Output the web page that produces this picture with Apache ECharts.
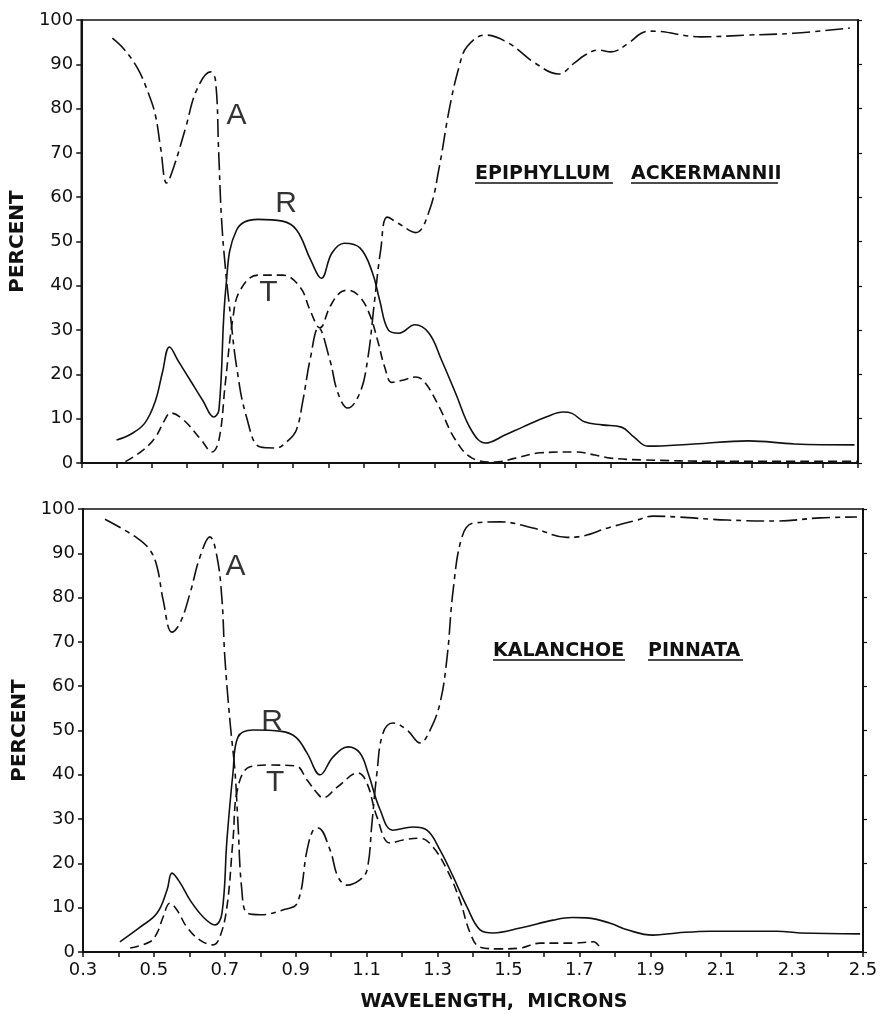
<!DOCTYPE html>
<html>
<head>
<meta charset="utf-8">
<script src="https://cdn.jsdelivr.net/npm/echarts@6/dist/echarts.min.js"></script>
<style>
html,body{margin:0;padding:0;background:#fff;}
#chart{width:883px;height:1014px;}
</style>
</head>
<body>
<div id="chart"></div>
<script>
// ---- data (wavelength in microns, percent) ----
const xTicks = [0.3,0.5,0.7,0.9,1.1,1.3,1.5,1.7,1.9,2.1,2.3,2.5];

const epiR = [[0.40,5.2],[0.44,6.5],[0.48,9],[0.51,14],[0.53,20.5],[0.55,26.2],[0.575,23],[0.61,18.5],[0.645,14],[0.675,10.4],[0.69,12],[0.71,40],[0.74,52.6],[0.80,55],[0.87,54.6],[0.91,52.6],[0.95,45.8],[0.98,41.7],[1.01,47.4],[1.045,49.6],[1.09,48.5],[1.125,42.9],[1.145,36.8],[1.17,30],[1.20,29.3],[1.245,31.2],[1.285,29.3],[1.32,23.3],[1.36,15.8],[1.405,7.4],[1.445,4.5],[1.50,6.3],[1.55,8.1],[1.62,10.5],[1.665,11.5],[1.69,11.2],[1.725,9.3],[1.775,8.6],[1.83,8.1],[1.865,5.9],[1.905,3.8],[2.035,4.3],[2.19,5],[2.32,4.3],[2.49,4.1]];
const epiT = [[0.425,0.3],[0.475,2.9],[0.51,5.8],[0.535,9.5],[0.553,11.3],[0.59,9.7],[0.64,5.2],[0.67,2.5],[0.69,5.2],[0.708,18],[0.73,33],[0.75,39],[0.80,42.4],[0.87,42.4],[0.92,39.7],[0.948,34.5],[0.976,30.5],[1.004,35.2],[1.032,38.4],[1.055,39],[1.089,37.5],[1.117,33.5],[1.14,27.5],[1.16,21.5],[1.18,18.2],[1.21,18.7],[1.247,19.4],[1.275,18],[1.314,12.6],[1.36,5.2],[1.407,1.1],[1.47,0.2],[1.53,1.1],[1.60,2.3],[1.70,2.5],[1.755,1.8],[1.80,1.1],[1.89,0.7],[2.1,0.4],[2.5,0.4]];
const epiA = [[0.388,95.9],[0.42,93.5],[0.46,89],[0.49,83.5],[0.51,78.5],[0.525,71],[0.542,63.2],[0.562,66.8],[0.596,75.8],[0.627,84.2],[0.666,88.3],[0.68,86.5],[0.689,70.7],[0.697,55.5],[0.708,44.2],[0.723,33],[0.74,21.7],[0.768,10.4],[0.807,3.6],[0.852,3.4],[0.885,5],[0.909,7.4],[0.928,14.2],[0.948,23.3],[0.972,30.5],[1.004,23.3],[1.027,15.8],[1.055,12.4],[1.089,15.8],[1.111,23.3],[1.131,36.8],[1.148,48],[1.167,55.5],[1.20,54],[1.247,52],[1.286,57],[1.314,66.8],[1.342,79.7],[1.37,89.4],[1.393,94],[1.444,96.6],[1.51,94.8],[1.585,90.3],[1.652,87.8],[1.697,90.3],[1.725,92],[1.765,93.2],[1.80,92.8],[1.85,94.8],[1.886,97],[1.914,97.5],[2.055,96.2],[2.187,96.6],[2.317,97],[2.477,98.2]];

const kalR = [[0.404,2.3],[0.461,5.6],[0.509,8.8],[0.537,14],[0.551,17.8],[0.574,15.6],[0.602,11.7],[0.639,7.9],[0.672,6.1],[0.692,8.8],[0.706,25.3],[0.723,40.4],[0.737,48.5],[0.78,50.1],[0.86,49.8],[0.90,48.5],[0.932,44.9],[0.969,40],[1.005,44],[1.048,46.3],[1.081,44.9],[1.104,40.4],[1.138,32.1],[1.174,27.5],[1.231,28.2],[1.27,27.5],[1.307,23],[1.344,17],[1.383,10.2],[1.42,5],[1.457,4.3],[1.533,5.4],[1.626,7.2],[1.68,7.8],[1.722,7.7],[1.787,6.5],[1.835,5],[1.908,3.8],[1.975,4.3],[2.069,4.7],[2.258,4.7],[2.322,4.3],[2.492,4.1]];
const kalT = [[0.433,0.9],[0.489,2.3],[0.509,4.3],[0.526,7.9],[0.545,11],[0.565,9.5],[0.593,5.6],[0.63,2.7],[0.667,1.6],[0.686,3.4],[0.706,10.2],[0.723,25.3],[0.737,37.2],[0.771,41.8],[0.828,42.2],[0.90,42],[0.932,38.8],[0.96,35.9],[0.977,34.8],[1.017,37.2],[1.076,40.4],[1.101,38.1],[1.129,30.5],[1.166,24.6],[1.203,25.3],[1.251,25.7],[1.287,23.7],[1.327,18.5],[1.363,11.7],[1.392,4.3],[1.42,1.1],[1.476,0.7],[1.533,0.9],[1.589,2],[1.682,2],[1.739,2.3],[1.76,0.8]];
const kalA = [[0.362,97.7],[0.452,93.5],[0.489,90.7],[0.509,86.9],[0.526,79.5],[0.551,72.2],[0.574,74.3],[0.602,81],[0.63,89.2],[0.658,93.7],[0.678,89.2],[0.692,79.5],[0.70,66.6],[0.715,51.7],[0.729,40.4],[0.737,29.1],[0.748,14],[0.763,8.8],[0.80,8.4],[0.864,9.5],[0.904,11],[0.932,23],[0.949,27.5],[0.963,28],[0.997,23],[1.019,17],[1.045,15.1],[1.081,16.3],[1.101,18.5],[1.115,29.1],[1.129,40.4],[1.146,49.4],[1.174,51.7],[1.214,50.1],[1.251,47.2],[1.279,50.1],[1.307,56.2],[1.327,66.6],[1.344,81.7],[1.369,93.7],[1.40,96.8],[1.476,97.1],[1.569,95.7],[1.665,93.6],[1.694,93.7],[1.787,95.9],[1.863,97.5],[1.908,98.4],[1.975,98.2],[2.117,97.5],[2.258,97.3],[2.379,98],[2.483,98.2]];

const curveLabelsTop = [[0.74,78.3,'A'],[0.88,58.5,'R'],[0.83,38.4,'T']];
const curveLabelsBottom = [[0.73,86.9,'A'],[0.833,51.9,'R'],[0.842,38.1,'T']];

// ---- chart ----
const INK = '#111';
const FONT = 'DejaVu Sans';
const chart = echarts.init(document.getElementById('chart'), null, {renderer:'canvas'});

function xAx(gi, showLabels){
  return {
    gridIndex: gi, type:'value', min:0.3, max:2.5, interval:0.1,
    axisLine:{onZero:false, lineStyle:{color:INK, width:2}},
    axisTick:{show:true, length:5, lineStyle:{color:INK, width:1.5}},
    splitLine:{show:false},
    axisLabel:{show:showLabels, fontFamily:FONT, fontSize:18, color:INK, margin:9,
      formatter: function(v){
        const k = Math.round(v*10);
        const txt = (k/10).toFixed(1);
        return xTicks.some(t => Math.abs(t - k/10) < 1e-6) ? txt : '';
      }}
  };
}
function yAx(gi){
  return {
    gridIndex: gi, type:'value', min:0, max:100, interval:10,
    name:'PERCENT', nameLocation:'middle', nameGap:38,
    nameTextStyle:{fontFamily:FONT, fontSize:20, fontWeight:'bold', color:INK},
    axisLine:{show:true, lineStyle:{color:INK, width:2}},
    axisTick:{show:true, length:5, lineStyle:{color:INK, width:1.5}},
    splitLine:{show:false},
    axisLabel:{fontFamily:FONT, fontSize:18, color:INK, margin:8}
  };
}
function yAxRight(gi){
  return {
    gridIndex: gi, type:'value', min:0, max:100, interval:10, position:'right',
    axisLine:{show:true, lineStyle:{color:INK, width:2}},
    axisTick:{show:true, length:4, lineStyle:{color:INK, width:1.2}},
    splitLine:{show:false}, axisLabel:{show:false}
  };
}
function line(data, xi, yi, type){
  return {
    type:'line', xAxisIndex:xi, yAxisIndex:yi, data:data,
    showSymbol:false, symbol:'none', smooth:0.4,
    lineStyle:{color:INK, width:1.6, type:type}, silent:true
  };
}
function letters(data, xi, yi){
  return {
    type:'scatter', xAxisIndex:xi, yAxisIndex:yi, data:data,
    symbolSize:1, itemStyle:{color:'rgba(0,0,0,0)'}, silent:true,
    label:{show:true, position:'inside', formatter: p => p.value[2],
      fontFamily:'Liberation Sans', fontSize:30, color:'#000'}
  };
}

const titleFont = 'bold 19px "DejaVu Sans"';
function word(text, x, y){
  return {type:'text', x:x, y:y, style:{text:text, font:titleFont, fill:INK, textAlign:'left', textVerticalAlign:'middle', align:'left', verticalAlign:'middle'}};
}
function uline(x1, x2, y){
  return {type:'line', shape:{x1:x1, y1:y, x2:x2, y2:y}, style:{stroke:INK, lineWidth:1.5}};
}

const option = {
  animation:false,
  backgroundColor:'#fff',
  grid:[
    {left:77, top:20, width:781, height:443, show:true, borderColor:INK, borderWidth:1.5, backgroundColor:'transparent'},
    {left:83, top:509, width:780, height:443, show:true, borderColor:INK, borderWidth:1.5, backgroundColor:'transparent'}
  ],
  xAxis:[xAx(0,false), xAx(1,true)],
  yAxis:[yAx(0), yAxRight(0), yAx(1), yAxRight(1)],
  series:[
    line(epiR,0,0,'solid'),
    line(epiT,0,0,[9,5]),
    line(epiA,0,0,[18,5,5,5]),
    line(kalR,1,2,'solid'),
    line(kalT,1,2,[9,5]),
    line(kalA,1,2,[18,5,5,5]),
    letters(curveLabelsTop,0,0),
    letters(curveLabelsBottom,1,2)
  ],
  graphic:[
    word('EPIPHYLLUM', 475, 174), uline(475, 613, 183),
    word('ACKERMANNII', 631, 174), uline(631, 778, 183),
    word('KALANCHOE', 493, 651), uline(493, 625, 660),
    word('PINNATA', 648, 651), uline(648, 743, 660),
    {type:'text', x:494, y:1002, style:{text:'WAVELENGTH,  MICRONS', font:'bold 19px "DejaVu Sans"', fill:INK, textAlign:'center', textVerticalAlign:'middle', align:'center', verticalAlign:'middle'}}
  ]
};
chart.setOption(option);
</script>
</body>
</html>
